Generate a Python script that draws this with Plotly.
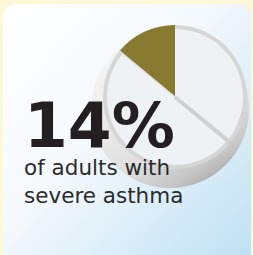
import base64
import math
import plotly.graph_objects as go

# ---------------- data ----------------
labels = ["Adults with severe asthma", "Other adults"]
values = [14, 86]
headline = "14%"
caption = ["of adults with", "severe asthma"]

OLIVE = "#887a30"
FACE = "#eff2f5"
RING = "#d6d6d6"

W, H = 253, 255
CX, CY = 175, 97          # pie centre (px)
R_OUT, R_IN = 72, 68      # outer (rim) and inner (face) radius (px)

share_deg = values[0] / sum(values) * 360   # wedge angle, ends at 12 o'clock


def dom(cx, cy, r):
    return dict(x=[(cx - r) / W, (cx + r) / W],
                y=[1 - (cy + r) / H, 1 - (cy - r) / H])


# ---------------- background (panel + tablet body) ----------------
svg = f"""<svg xmlns='http://www.w3.org/2000/svg' width='{W}' height='{H}' viewBox='0 0 {W} {H}'>
<defs>
<linearGradient id='g' x1='0' y1='0' x2='1' y2='1'>
<stop offset='0' stop-color='#ffffff'/>
<stop offset='0.42' stop-color='#f5f9fc'/>
<stop offset='1' stop-color='#bcdff3'/>
</linearGradient>
<linearGradient id='b' x1='0.25' y1='0.2' x2='0.75' y2='1'>
<stop offset='0' stop-color='#f2f2f2'/>
<stop offset='0.6' stop-color='#e0e0e0'/>
<stop offset='0.85' stop-color='#c6c6c6'/>
<stop offset='1' stop-color='#a6a6a6'/>
</linearGradient>
</defs>
<rect width='{W}' height='{H}' fill='#fdf9d8'/>
<rect x='3' y='4' width='248' height='270' rx='13' fill='url(#g)'/>
<circle cx='170' cy='109' r='79' fill='url(#b)'/>
</svg>"""
src = "data:image/svg+xml;base64," + base64.b64encode(svg.encode()).decode()

fig = go.Figure()

# rim pie (olive wedge full radius, rest = rim grey)
fig.add_trace(go.Pie(
    labels=labels, values=values, sort=False, direction="clockwise",
    rotation=-share_deg, marker=dict(colors=[OLIVE, RING], line=dict(width=0)),
    textinfo="none", hoverinfo="skip", showlegend=False,
    domain=dom(CX, CY, R_OUT)))
# face pie
fig.add_trace(go.Pie(
    labels=labels, values=values, sort=False, direction="clockwise",
    rotation=-share_deg, marker=dict(colors=[OLIVE, FACE], line=dict(width=0)),
    textinfo="none", hoverinfo="skip", showlegend=False,
    domain=dom(CX, CY, R_IN)))

# score line along the wedge's left edge, derived from the share
ang = math.radians(share_deg)
sx, sy = math.sin(ang), math.cos(ang)
c = (CX / W, 1 - CY / H)
lower = ((CX + R_OUT * sx) / W, 1 - (CY + R_OUT * sy) / H)
upper = ((CX - R_OUT * sx) / W, 1 - (CY - R_OUT * sy) / H)
shapes = [
    dict(type="line", xref="paper", yref="paper", x0=c[0], y0=c[1],
         x1=lower[0], y1=lower[1], line=dict(color="#d0d0d0", width=4)),
    dict(type="line", xref="paper", yref="paper", x0=c[0], y0=c[1],
         x1=upper[0], y1=upper[1], line=dict(color="#e2e2e2", width=1.5)),
]

text = (f"<span style='font-size:63px;font-weight:bold;color:#231f20'>{headline}</span>"
        f"<br>{caption[0]}<br>{caption[1]}")

annotations = [
    dict(text=text, xref="paper", yref="paper", x=22 / W, y=1 - 210 / H,
         xanchor="left", yanchor="bottom", align="left", showarrow=False,
         font=dict(family="DejaVu Sans", size=21.5, color="#2b2b2b")),
]

fig.update_layout(
    width=W, height=H, margin=dict(l=0, r=0, t=0, b=0),
    paper_bgcolor="#fdf9d8", plot_bgcolor="rgba(0,0,0,0)",
    images=[dict(source=src, xref="paper", yref="paper", x=0, y=1,
                 sizex=1, sizey=1, xanchor="left", yanchor="top",
                 sizing="stretch", layer="below")],
    shapes=shapes, annotations=annotations,
)

fig.write_html("out.html", config={"displayModeBar": False},
               post_script="document.body.style.margin='0';document.body.style.overflow='hidden';")
